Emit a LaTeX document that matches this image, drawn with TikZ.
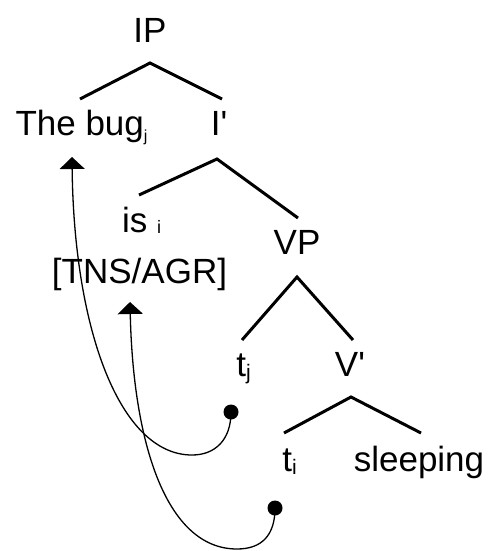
\documentclass[tikz,border=0pt]{standalone}
\usepackage{fontspec}
\setmainfont{Liberation Sans}[Ligatures=TeXOff]
\usetikzlibrary{calc,arrows.meta}
\newcommand\subx[3]{\raisebox{-#2pt}{\fontsize{#1}{#1}\selectfont #3}}
\tikzset{
  lbl/.style={anchor=base,inner sep=0pt,font=\fontsize{35}{40}\selectfont},
  branch/.style={line width=3pt},
  trace/.style={line width=1.3pt},
  dotnode/.style={circle,fill=black,inner sep=0pt,minimum size=15pt},
  movearrow/.style={trace,-{Triangle[width=25pt,length=12pt]}}
}
\begin{document}
\begin{tikzpicture}[x=1pt,y=-1pt]
\useasboundingbox (0,0) rectangle (491,551);
\node[lbl] (IP) at (150,42) {IP};
\node[lbl] (bug) at (81.5,135) {The bug\subx{16}{6}{j}};
\node[lbl] (Ibar) at (219,135) {I'};
\node[lbl] (is) at (141.5,232) {is\ \subx{18}{1}{i}};
\node[lbl] (tns) at (139.5,283) {[TNS/AGR]};
\node[lbl] (VP) at (297,254) {VP};
\node[lbl] (tj) at (243.5,376) {t\subx{21}{3}{j}};
\node[lbl] (Vbar) at (350,376) {V'};
\node[lbl] (ti) at (289.5,471) {t\subx{21}{3}{i}};
\node[lbl] (sleep) at (419,471) {sleeping};
\node[dotnode] (d1) at (231,412) {};
\node[dotnode] (d2) at (275,508) {};
% branches
\draw[branch] ($(bug.base)+(-1.5,-36)$) -- ($(IP.base)+(0,21)$) -- ($(Ibar.base)+(3,-36)$);
\draw[branch] ($(is.base)+(-2.5,-37)$) -- ($(Ibar.base)+(-2,24)$) -- ($(VP.base)+(1,-36)$);
\draw[branch] ($(tj.base)+(-1.5,-36)$) -- ($(VP.base)+(0,23)$) -- ($(Vbar.base)+(3,-36)$);
\draw[branch] ($(ti.base)+(-5.5,-38)$) -- ($(Vbar.base)+(1,21)$) -- ($(sleep.base)+(2,-38)$);
% movement traces
\draw[movearrow] (d1.center) .. controls (231,440) and (215,455) .. (192,455)
  .. controls (120,455) and (74,330) .. ($(bug.base)+(-9.5,22)$);
\draw[movearrow] (d2.center) .. controls (275,535) and (262,549) .. (237,549)
  .. controls (165,549) and (133,440) .. ($(tns.base)+(-9.5,19)$);
\end{tikzpicture}
\end{document}
